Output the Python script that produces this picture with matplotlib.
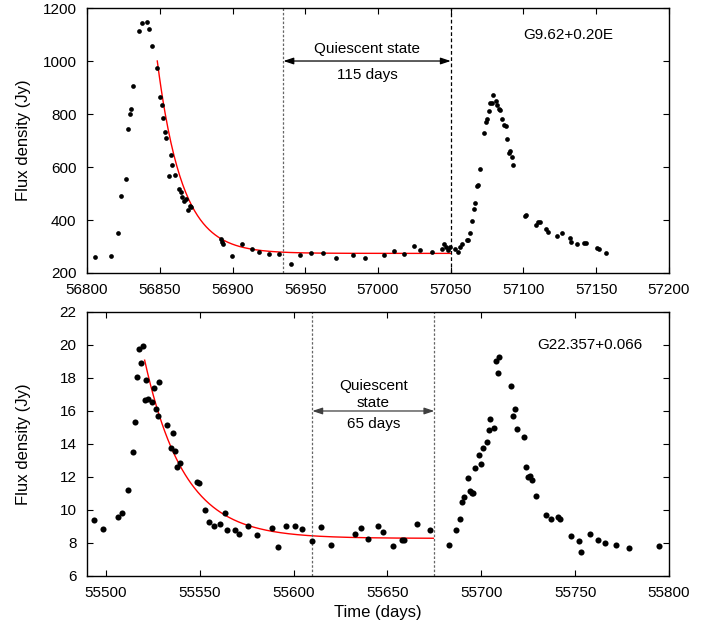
import numpy as np
import matplotlib
matplotlib.use("Agg")
import matplotlib.pyplot as plt

plt.rcParams['font.family'] = ['Liberation Sans', 'DejaVu Sans']
plt.rcParams['font.size'] = 11

# ---------------- Top panel data: G9.62+0.20E ----------------
t1 = [56805.5, 56816.5, 56821.5, 56823.6, 56826.6, 56828.4, 56829.6, 56830.5, 56831.4,
      56835.5, 56837.6, 56841.5, 56842.4, 56844.4, 56848.3, 56850.4, 56851.3, 56852.4,
      56853.4, 56854.5, 56857.5, 56858.4, 56856.4, 56860.7, 56863.2, 56864.4, 56865.3,
      56866.7, 56867.8, 56869.4, 56870.6, 56871.5, 56892.1, 56893.0, 56893.7, 56899.4,
      56906.5, 56913.4, 56918.4, 56925.3, 56932.2, 56940.2, 56946.4, 56954.2, 56962.2,
      56971.4, 56983.0, 56991.3, 57004.1, 57011.2, 57018.1, 57025.0, 57029.1, 57036.9,
      57043.8, 57045.6, 57046.7, 57048.1, 57049.3, 57052.9, 57054.8, 57056.4, 57057.9,
      57060.9, 57062.1, 57063.0, 57064.8, 57066.0, 57066.9, 57068.0, 57068.9, 57070.1,
      57073.1, 57074.0, 57074.9, 57076.1, 57077.2, 57078.1, 57079.0, 57080.9, 57082.0,
      57082.9, 57083.8, 57085.0, 57086.8, 57088.0, 57088.9, 57089.8, 57090.9, 57091.9,
      57093.0, 57101.0, 57101.9, 57108.6, 57110.0, 57111.3, 57115.7, 57116.8, 57122.8,
      57126.7, 57131.7, 57132.6, 57136.8, 57141.8, 57143.0, 57150.3, 57152.1, 57156.7]
f1 = [260, 263, 351, 492, 553, 743, 801, 818, 904,
      1113, 1142, 1146, 1120, 1057, 975, 864, 833, 785,
      732, 709, 646, 608, 565, 569, 518, 506, 486,
      473, 478, 439, 454, 450, 330, 318, 311, 264,
      311, 291, 278, 272, 273, 233, 268, 277, 275,
      258, 267, 258, 268, 284, 271, 302, 288, 278,
      291, 308, 297, 287, 299, 291, 281, 299, 311,
      326, 325, 351, 396, 440, 465, 528, 532, 594,
      728, 769, 780, 812, 840, 840, 873, 850, 834,
      820, 814, 782, 760, 755, 707, 652, 662, 637,
      606, 415, 419, 380, 391, 394, 365, 354, 338,
      350, 332, 316, 311, 315, 312, 296, 292, 277]

# exponential-decay fit parameters (top)
fit1_t0, fit1_t1 = 56848.3, 57049.7
fit1_A, fit1_B, fit1_tau = 274.0, 726.0, 17.0
q1_start, q1_end = 56935.0, 57050.0

# ---------------- Bottom panel data: G22.357+0.066 ----------------
t2 = [55493.7, 55498.7, 55506.7, 55508.6, 55511.7, 55514.7, 55515.7, 55516.6, 55518.6,
      55517.5, 55519.7, 55521.6, 55520.7, 55522.7, 55524.6, 55525.9, 55526.8, 55527.7,
      55528.5, 55532.6, 55535.7, 55534.6, 55536.9, 55537.8, 55539.5, 55548.6, 55549.7,
      55552.7, 55554.8, 55557.8, 55560.9, 55563.7, 55564.8, 55568.7, 55570.8, 55575.8,
      55580.7, 55588.7, 55591.8, 55595.9, 55600.8, 55604.7, 55609.9, 55614.8, 55619.8,
      55632.8, 55635.8, 55639.9, 55644.9, 55647.9, 55652.9, 55658.0, 55659.1, 55665.8,
      55672.9, 55682.9, 55686.8, 55688.8, 55689.8, 55690.9, 55692.9, 55693.9, 55695.0,
      55695.8, 55696.9, 55698.9, 55699.8, 55700.9, 55703.0, 55703.9, 55704.7, 55706.9,
      55707.8, 55708.8, 55709.5, 55715.7, 55716.8, 55717.8, 55718.9, 55722.8, 55723.9,
      55724.8, 55726.0, 55726.9, 55728.9, 55734.7, 55736.9, 55740.8, 55741.9, 55747.9,
      55752.0, 55752.9, 55757.9, 55762.0, 55765.8, 55771.8, 55778.9, 55794.9]
f2 = [9.39, 8.85, 9.58, 9.80, 11.21, 13.52, 15.35, 18.08, 18.91,
      19.78, 19.96, 17.88, 16.65, 16.73, 16.53, 17.39, 16.10, 15.68,
      17.73, 15.17, 14.65, 13.74, 13.59, 12.62, 12.87, 11.72, 11.64,
      10.00, 9.29, 9.03, 9.17, 9.84, 8.79, 8.79, 8.55, 9.05,
      8.50, 8.89, 7.78, 9.01, 9.03, 8.83, 8.10, 8.99, 7.88,
      8.53, 8.89, 8.26, 9.01, 8.69, 7.82, 8.16, 8.16, 9.15,
      8.79, 7.88, 8.77, 9.47, 10.46, 10.81, 11.94, 11.17, 11.05,
      11.01, 12.55, 13.35, 12.81, 13.76, 14.12, 14.83, 15.52, 14.97,
      19.05, 18.28, 19.29, 17.50, 15.70, 16.12, 14.91, 14.42, 12.62,
      12.00, 12.06, 11.80, 10.83, 9.68, 9.45, 9.58, 9.44, 8.41,
      8.12, 7.47, 8.53, 8.20, 8.00, 7.88, 7.68, 7.80]

fit2_t0, fit2_t1 = 55520.7, 55674.5
fit2_A, fit2_B, fit2_tau = 8.28, 10.8, 21.0
q2_start, q2_end = 55610.0, 55675.0

fig = plt.figure(figsize=(7.12, 6.26), dpi=100)
ax1 = fig.add_axes([0.1222, 0.5639, 0.8174, 0.4233])
ax2 = fig.add_axes([0.1222, 0.0799, 0.8174, 0.4217])

ARROW = '<|-|>,head_length=0.6,head_width=0.2'


def style(ax):
    ax.tick_params(direction='in', top=True, right=True, length=4, width=0.8,
                   labelsize=11, pad=7.5)
    for s in ax.spines.values():
        s.set_linewidth(1.0)
    ax.yaxis.set_label_coords(-0.096, 0.5)


# ---- top ----
ax1.plot(t1, f1, 'o', color='black', markersize=3.4, markeredgewidth=0, zorder=3)
tt = np.linspace(fit1_t0, fit1_t1, 300)
ax1.plot(tt, fit1_A + fit1_B * np.exp(-(tt - fit1_t0) / fit1_tau), color='red', lw=1.0, zorder=2)
ax1.axvline(q1_start, color='0.4', lw=0.9, ls=(0, (2, 1.5)))
ax1.axvline(q1_end, color='black', lw=0.9, ls=(0, (3, 2)))
ax1.annotate('', xy=(q1_start, 1000), xytext=(q1_end, 1000),
             arrowprops=dict(arrowstyle=ARROW, color='black', lw=0.9,
                             mutation_scale=10, shrinkA=0, shrinkB=0))
ax1.text((q1_start + q1_end) / 2, 1045, 'Quiescent state', ha='center', va='center', fontsize=11)
ax1.text((q1_start + q1_end) / 2, 947, '115 days', ha='center', va='center', fontsize=11)
ax1.text(57131, 1098, 'G9.62+0.20E', ha='center', va='center', fontsize=11)
ax1.set_xlim(56800, 57200)
ax1.set_ylim(200, 1200)
ax1.set_xticks(np.arange(56800, 57201, 50))
ax1.set_yticks(np.arange(200, 1201, 200))
ax1.set_ylabel('Flux density (Jy)', fontsize=12)
style(ax1)

# ---- bottom ----
ax2.plot(t2, f2, 'o', color='black', markersize=4.4, markeredgewidth=0, zorder=3)
tt2 = np.linspace(fit2_t0, fit2_t1, 300)
ax2.plot(tt2, fit2_A + fit2_B * np.exp(-(tt2 - fit2_t0) / fit2_tau), color='red', lw=1.0, zorder=2)
ax2.axvline(q2_start, color='0.4', lw=0.9, ls=(0, (2, 1.5)))
ax2.axvline(q2_end, color='0.4', lw=0.9, ls=(0, (2, 1.5)))
ax2.annotate('', xy=(q2_start, 16.0), xytext=(q2_end, 16.0),
             arrowprops=dict(arrowstyle=ARROW, color='0.25', lw=0.9,
                             mutation_scale=10, shrinkA=0, shrinkB=0))
ax2.text((q2_start + q2_end) / 2, 17.5, 'Quiescent', ha='center', va='center', fontsize=11)
ax2.text((q2_start + q2_end) / 2, 16.47, 'state', ha='center', va='center', fontsize=11)
ax2.text((q2_start + q2_end) / 2, 15.2, '65 days', ha='center', va='center', fontsize=11)
ax2.text(55758, 20.0, 'G22.357+0.066', ha='center', va='center', fontsize=11)
ax2.set_xlim(55490, 55800)
ax2.set_ylim(6, 22)
ax2.set_xticks(np.arange(55500, 55801, 50))
ax2.set_yticks(np.arange(6, 23, 2))
ax2.set_ylabel('Flux density (Jy)', fontsize=12)
ax2.set_xlabel('Time (days)', fontsize=12, labelpad=3)
style(ax2)

fig.savefig('out.png', dpi=100)
